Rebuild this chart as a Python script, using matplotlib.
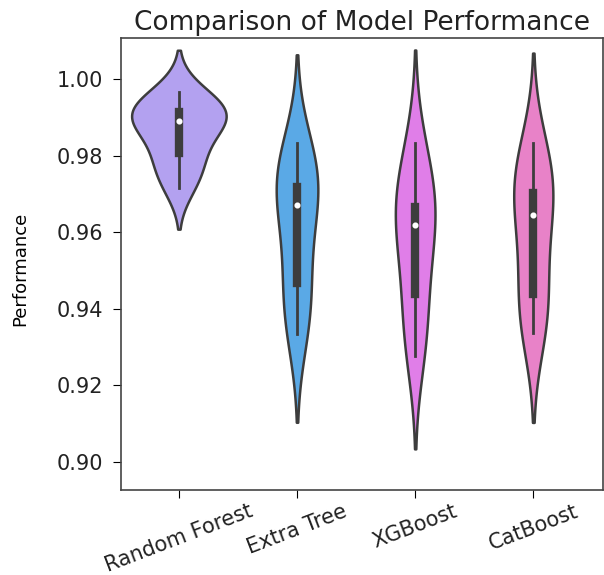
import matplotlib
matplotlib.use("Agg")
import matplotlib.pyplot as plt
import seaborn as sns
import pandas as pd

# model names and the 10-fold scores
models = ["Random Forest", "Extra Tree", "XGBoost", "CatBoost"]
rf_scores = [0.9716, 0.9765, 0.9795, 0.9845, 0.9880, 0.9900, 0.9910, 0.9915, 0.9935, 0.9967]
et_scores = [0.9334, 0.9395, 0.9445, 0.9530, 0.9625, 0.9717, 0.9717, 0.9720, 0.9770, 0.9833]
xgb_scores = [0.9276, 0.9345, 0.9413, 0.9520, 0.9575, 0.9665, 0.9665, 0.9667, 0.9750, 0.9834]
cb_scores = [0.9337, 0.9380, 0.9415, 0.9505, 0.9590, 0.9700, 0.9700, 0.9702, 0.9770, 0.9834]
colors = ["#b3a1f0", "#5aa9e6", "#e07ee8", "#e882c8"]
y_ticks = [0.90, 0.92, 0.94, 0.96, 0.98, 1.00]

# long format table for seaborn
rows = []
for name, scores in zip(models, [rf_scores, et_scores, xgb_scores, cb_scores]):
    for s in scores:
        rows.append({"Model": name, "Performance": s})
df = pd.DataFrame(rows)

fig = plt.figure(figsize=(6.04, 5.75), dpi=100)
ax = fig.add_axes([121 / 604, 1 - 490 / 575, 482 / 604, 452 / 575])

sns.violinplot(data=df, x="Model", y="Performance", hue="Model", palette=colors,
               saturation=1, linecolor="#3d3d3d", linewidth=1.8, legend=False,
               common_norm=True, bw_adjust=1.06, inner="box",
               inner_kws=dict(box_width=6, whis_width=2, marker="o", markersize=3.2,
                              color="#3d3d3d"),
               ax=ax)

ax.set_xlim(-0.49, 3.59)
ax.set_ylim(0.8927, 1.0107)
ax.set_yticks(y_ticks)
ax.set_yticklabels([f"{t:.2f}" for t in y_ticks], fontsize=15, color="#222222")
ax.set_xticks(range(len(models)))
ax.set_xticklabels(models, rotation=21, fontsize=15, color="#222222")
ax.tick_params(axis="y", length=6, pad=7)
ax.tick_params(axis="x", length=6, pad=2)
ax.set_xlabel("")
ax.set_ylabel("Performance", fontsize=13, family=["Liberation Sans Narrow", "DejaVu Sans"])
ax.yaxis.set_label_coords(-0.19, 0.49)
ax.set_title("Comparison of Model Performance", fontsize=19, color="#222222")

for sp in ax.spines.values():
    sp.set_color("#444444")
    sp.set_linewidth(1.2)

fig.savefig("out.png", dpi=100)
